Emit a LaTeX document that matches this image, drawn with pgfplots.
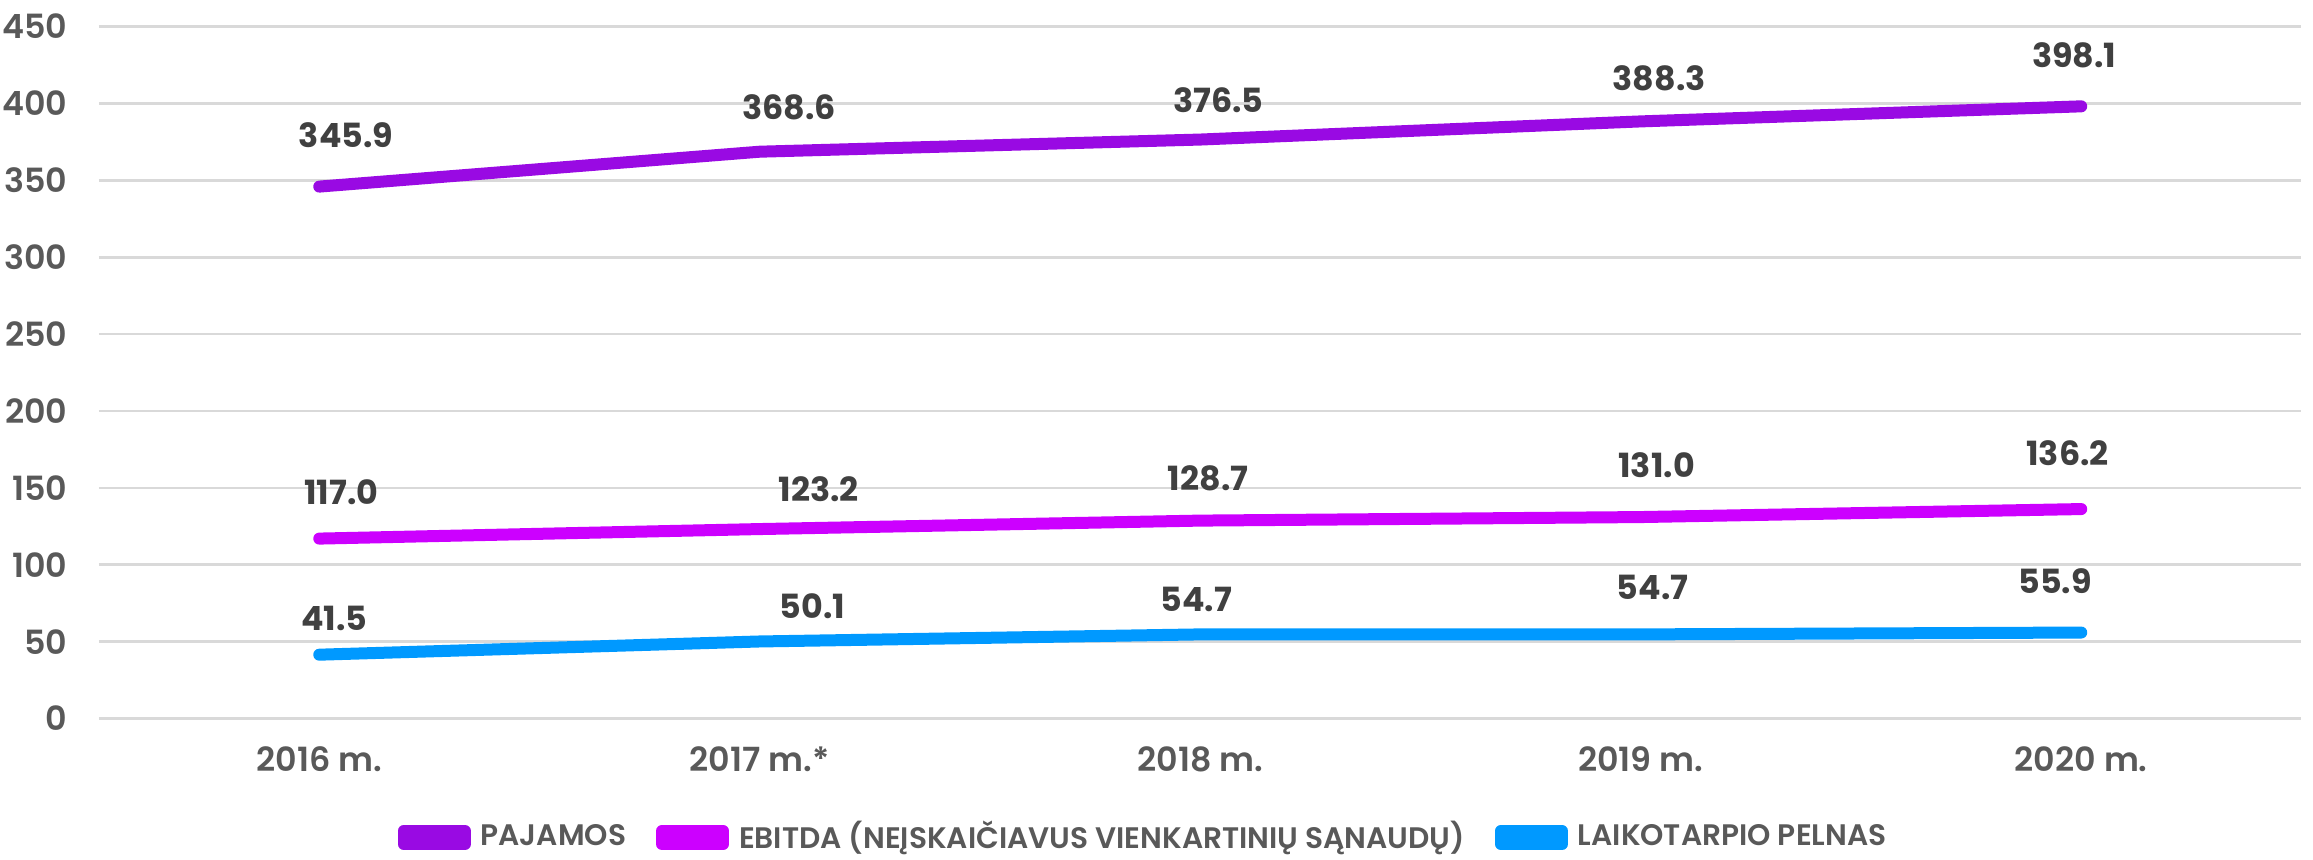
\documentclass[border=0pt]{standalone}
\usepackage{fontspec}
\setmainfont{Poppins}[UprightFont={* SemiBold}, BoldFont={* Bold}]
\usepackage{pgfplots}
\pgfplotsset{compat=1.18}
\definecolor{cpaj}{HTML}{990AE3}
\definecolor{cebit}{HTML}{CC00FF}
\definecolor{clai}{HTML}{0099FF}
\definecolor{gridc}{HTML}{D9D9D9}
\definecolor{tickc}{HTML}{595959}
\definecolor{labc}{HTML}{404040}
\begin{document}
\begin{tikzpicture}
\begin{axis}[
  at={(0,0)}, anchor=south west,
  scale only axis,
  width=660.75pt, height=207.6pt,
  xmin=-0.5, xmax=4.5,
  ymin=0, ymax=450,
  ytick={0,50,...,450},
  xtick={0,1,2,3,4},
  xticklabels={2016 m., 2017 m.*, 2018 m., 2019 m., 2020 m.},
  axis line style={draw=none},
  major tick length=0pt,
  ymajorgrids,
  grid style={gridc, line width=0.8pt},
  /pgf/number format/assume math mode=true,
  tick label style={font=\fontsize{10}{12}\selectfont, text=tickc},
  yticklabel style={anchor=east, inner sep=0pt, xshift=-9.3pt},
  xticklabel style={anchor=center, inner sep=0pt, yshift=-12.2pt},
  clip=false,
  legend columns=3,
  legend style={at={(0.4736,-0.172)}, anchor=center, draw=none,
    font=\fontsize{8.9}{11}\selectfont, text=tickc,
    nodes={inner sep=0pt},
    /tikz/every odd column/.append style={column sep=3pt},
    /tikz/every even column/.append style={column sep=9pt}},
  legend image code/.code={
    \path (0pt,-2pt) rectangle (18.3pt,2pt);
    \draw[line width=3.6pt, line cap=round] (1.8pt,0pt) -- (16.5pt,0pt);},
  every axis plot/.append style={line width=3.6pt, line cap=round, line join=round, mark=none},
]
\addplot[cpaj] coordinates {(0,345.9) (1,368.6) (2,376.5) (3,388.3) (4,398.1)};
\addlegendentry{PAJAMOS}
\addplot[cebit] coordinates {(0,117.0) (1,123.2) (2,128.7) (3,131.0) (4,136.2)};
\addlegendentry{EBITDA (NEĮSKAIČIAVUS VIENKARTINIŲ SĄNAUDŲ)}
\addplot[clai] coordinates {(0,41.5) (1,50.1) (2,54.7) (3,54.7) (4,55.9)};
\addlegendentry{LAIKOTARPIO PELNAS}
% data labels
\pgfplotsset{lab/.style={forget plot, draw=none, no markers, nodes near coords,
  point meta=explicit symbolic,
  every node near coord/.style={anchor=center, inner sep=0pt, text=labc, font=\fontsize{10}{12}\selectfont\bfseries}}}
\addplot[lab] coordinates {(0.061,379.1)[345.9] (1.066,397.2)[368.6] (2.041,401.9)[376.5] (3.042,416.3)[388.3] (3.984,431.3)[398.1]};
\addplot[lab] coordinates {(0.050,146.9)[117.0] (1.134,149.2)[123.2] (2.018,156.0)[128.7] (3.036,164.8)[131.0] (3.969,172.6)[136.2]};
\addplot[lab] coordinates {(0.034,64.9)[41.5] (1.120,73.2)[50.1] (1.991,77.5)[54.7] (3.027,85.3)[54.7] (3.941,89.4)[55.9]};
\end{axis}
\pgfresetboundingbox
\path[use as bounding box] (-29.7pt,-42.15pt) rectangle (664.2pt,215.55pt);
\end{tikzpicture}
\end{document}
